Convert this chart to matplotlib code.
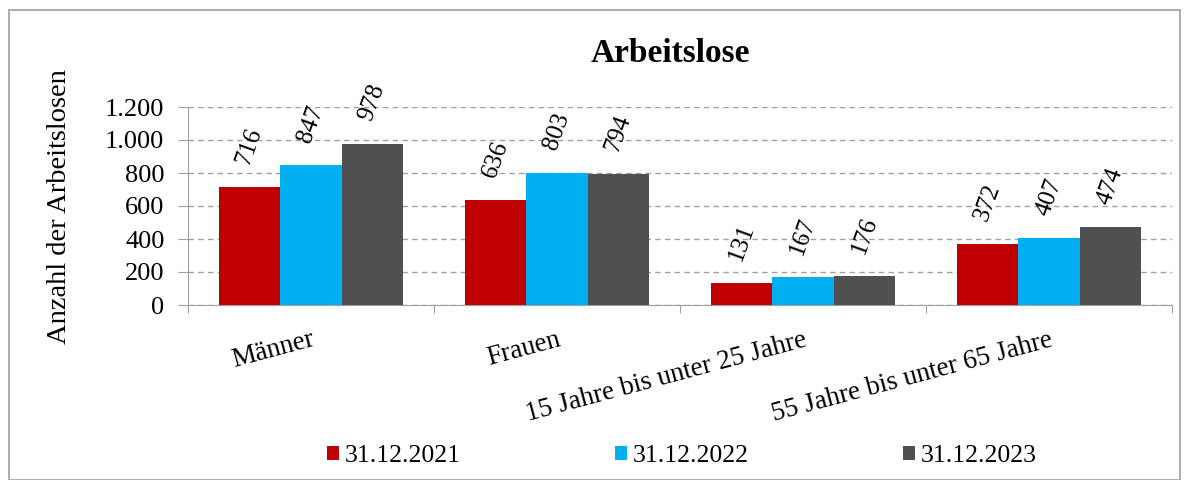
import numpy as np
import matplotlib.pyplot as plt
from matplotlib.patches import Rectangle

# Data
categories = ["Männer", "Frauen", "15 Jahre bis unter 25 Jahre", "55 Jahre bis unter 65 Jahre"]
v2021 = [716, 636, 131, 372]
v2022 = [847, 803, 167, 407]
v2023 = [978, 794, 176, 474]
series_labels = ["31.12.2021", "31.12.2022", "31.12.2023"]
colors = ["#C00000", "#00B0F0", "#505050"]
yticks = [0, 200, 400, 600, 800, 1000, 1200]
ytick_labels = ["0", "200", "400", "600", "800", "1.000", "1.200"]

plt.rcParams["font.family"] = "Liberation Serif"

W, H = 1189, 480
fig = plt.figure(figsize=(W / 100, H / 100), dpi=100)
ax = fig.add_axes([188 / W, 1 - 305 / H, (1172 - 188) / W, (305 - 107) / H])

# grey frame round the whole chart
fig.patches.append(Rectangle((9 / W, 0.0), 1171 / W, 1 - 10 / H,
                             transform=fig.transFigure, fill=False,
                             edgecolor="#A0A0A0", linewidth=1.2))

x = np.arange(len(categories))
w = 0.25
for i, (vals, lab, c) in enumerate(zip([v2021, v2022, v2023], series_labels, colors)):
    pos = x + (i - 1) * w
    ax.bar(pos, vals, width=w, color=c, label=lab, zorder=3)
    for p, v in zip(pos, vals):
        ax.annotate(str(v), (p, v), xytext=(0, 14), textcoords="offset points",
                    rotation=70, ha="center", va="bottom", fontsize=18)

ax.set_xlim(-0.5, len(categories) - 0.5)
ax.set_ylim(0, 1200)
ax.set_yticks(yticks)
ax.set_yticklabels(ytick_labels, fontsize=19)
ax.yaxis.grid(True, linestyle=(0, (4, 3)), color="#A0A0A0", linewidth=1, zorder=0)
ax.tick_params(axis="y", length=7, color="#A0A0A0", pad=10)

# category boundaries as major ticks, names as minor tick labels
ax.set_xticks(np.arange(len(categories) + 1) - 0.5)
ax.set_xticklabels([""] * (len(categories) + 1))
ax.tick_params(axis="x", length=6, color="#A0A0A0")
ax.set_xticks(x, minor=True)
ax.set_xticklabels(categories, minor=True, rotation=15, fontsize=19.5,
                   ha="right", va="top", rotation_mode="anchor")
ax.tick_params(axis="x", which="minor", length=0, pad=16)

for s in ["top", "right"]:
    ax.spines[s].set_visible(False)
ax.spines["left"].set_color("#A0A0A0")
ax.spines["bottom"].set_color("#A0A0A0")

fig.text(60 / W, 1 - 207 / H, "Anzahl der Arbeitslosen", rotation=90,
         ha="center", va="center", fontsize=20.5)
fig.text(670 / W, 1 - 54 / H, "Arbeitslose", ha="center", va="center",
         fontsize=24, fontweight="bold")

fig.legend(loc="center", bbox_to_anchor=(682 / W, 1 - 456 / H), ncol=3, frameon=False,
           fontsize=18.5, handlelength=0.47, handleheight=0.5, handletextpad=0.23,
           columnspacing=6.0)

fig.savefig("out.png", dpi=100)
